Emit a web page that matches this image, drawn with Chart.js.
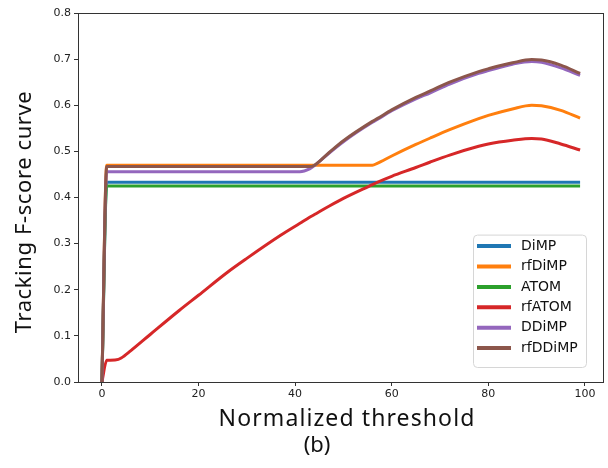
<!DOCTYPE html>
<html>
<head>
<meta charset="utf-8">
<script src="https://cdn.jsdelivr.net/npm/chart.js@4.4.1/dist/chart.umd.min.js"></script>
<style>
  html, body { margin: 0; padding: 0; background: #fff; }
</style>
</head>
<body>
<canvas id="fscoreChart" width="608" height="468"></canvas>
<script>
// normalized threshold (x) and F-score values
const thresholds = [0, 1, 3, 4, 6, 10, 16, 20, 26, 30, 37, 41, 43, 44, 47, 50, 56, 57, 60, 65, 68, 72, 78, 80, 85, 89, 91, 95, 99];

const dimp = [0, 0.433, 0.433, 0.433, 0.433, 0.433, 0.433, 0.433, 0.433, 0.433, 0.433, 0.433, 0.433, 0.433, 0.433,
  0.433, 0.433, 0.433, 0.433, 0.433, 0.433, 0.433, 0.433, 0.433, 0.433, 0.433, 0.433, 0.433, 0.433];
const rfdimp = [0, 0.470, 0.470, 0.470, 0.470, 0.470, 0.470, 0.470, 0.470, 0.470, 0.470, 0.470, 0.470, 0.470, 0.470,
  0.470, 0.470, 0.474, 0.490, 0.515, 0.529, 0.547, 0.571, 0.578, 0.592, 0.600, 0.599, 0.589, 0.572];
const atom = [0, 0.425, 0.425, 0.425, 0.425, 0.425, 0.425, 0.425, 0.425, 0.425, 0.425, 0.425, 0.425, 0.425, 0.425,
  0.425, 0.425, 0.425, 0.425, 0.425, 0.425, 0.425, 0.425, 0.425, 0.425, 0.425, 0.425, 0.425, 0.425];
const rfatom = [0, 0.047, 0.048, 0.052, 0.068, 0.103, 0.155, 0.188, 0.238, 0.268, 0.318, 0.344, 0.357, 0.363, 0.381,
  0.398, 0.428, 0.433, 0.446, 0.465, 0.477, 0.492, 0.511, 0.516, 0.524, 0.528, 0.527, 0.516, 0.503];
const ddimp = [0, 0.456, 0.456, 0.456, 0.456, 0.456, 0.456, 0.456, 0.456, 0.456, 0.456, 0.456, 0.462, 0.469, 0.496,
  0.521, 0.563, 0.569, 0.588, 0.614, 0.627, 0.646, 0.669, 0.675, 0.689, 0.695, 0.693, 0.681, 0.665];
const rfddimp = [0, 0.467, 0.467, 0.467, 0.467, 0.467, 0.467, 0.467, 0.467, 0.467, 0.467, 0.467, 0.467, 0.470, 0.497,
  0.523, 0.565, 0.571, 0.590, 0.617, 0.631, 0.650, 0.673, 0.679, 0.692, 0.699, 0.698, 0.687, 0.669];

const seriesNames = ['DiMP', 'rfDiMP', 'ATOM', 'rfATOM', 'DDiMP', 'rfDDiMP'];
const seriesValues = [dimp, rfdimp, atom, rfatom, ddimp, rfddimp];
const seriesColors = ['#1f77b4', '#ff7f0e', '#2ca02c', '#d62728', '#9467bd', '#8c564b'];

const xTicks = [0, 20, 40, 60, 80, 100];
const yTicks = [0, 0.1, 0.2, 0.3, 0.4, 0.5, 0.6, 0.7, 0.8];

const titleFont = '"Noto Sans", "Open Sans", sans-serif';
const tickFont = { family: '"DejaVu Sans", sans-serif', size: 11 };

// matplotlib style frame on all four sides
const framePlugin = {
    id: 'frame',
    afterDatasetsDraw(chart) {
        const a = chart.chartArea;
        const ctx = chart.ctx;
        ctx.save();
        ctx.strokeStyle = '#333';
        ctx.lineWidth = 1;
        ctx.strokeRect(Math.round(a.left) + 0.5, Math.round(a.top) + 0.5,
            Math.round(a.right - a.left) - 1, Math.round(a.bottom - a.top));
        ctx.restore();
    }
};

function drawText(ctx, text, x, y, angle, size, spacing) {
    ctx.save();
    ctx.translate(x, y);
    ctx.rotate(angle);
    ctx.font = size + 'px ' + titleFont;
    ctx.letterSpacing = spacing + 'px';
    ctx.textAlign = 'center';
    ctx.textBaseline = 'middle';
    ctx.fillStyle = '#111';
    ctx.fillText(text, 0, 0);
    ctx.restore();
}

// legend box in the lower right, axis titles and caption
const extrasPlugin = {
    id: 'extras',
    afterDraw(chart) {
        const ctx = chart.ctx;
        const a = chart.chartArea;
        const sets = chart.data.datasets;

        const boxW = 113, rowH = 20.4;
        const boxH = 10 + rowH * sets.length;
        const boxX = a.right - 18 - boxW;
        const boxY = a.bottom - 15 - boxH;

        ctx.save();
        ctx.beginPath();
        ctx.roundRect(boxX + 0.5, boxY + 0.5, boxW, boxH, 4);
        ctx.fillStyle = 'rgba(255,255,255,0.8)';
        ctx.fill();
        ctx.strokeStyle = '#d6d6d6';
        ctx.lineWidth = 1;
        ctx.stroke();

        ctx.font = '14px "DejaVu Sans", sans-serif';
        ctx.textBaseline = 'middle';
        ctx.textAlign = 'left';
        sets.forEach(function (ds, i) {
            const y = boxY + 11.5 + i * rowH;
            ctx.beginPath();
            ctx.moveTo(boxX + 4, y);
            ctx.lineTo(boxX + 38, y);
            ctx.strokeStyle = ds.borderColor;
            ctx.lineWidth = 4;
            ctx.stroke();
            ctx.fillStyle = '#111';
            ctx.fillText(ds.label, boxX + 48, y);
        });
        ctx.restore();

        drawText(ctx, 'Tracking F-score curve', 25, 212, -Math.PI / 2, 22, 0.6);
        drawText(ctx, 'Normalized threshold', 347, 419, 0, 23, 1.1);
        drawText(ctx, '(b)', 317, 446, 0, 22, 0);
    }
};

const ctx = document.getElementById('fscoreChart').getContext('2d');
const fscoreChart = new Chart(ctx, {
    type: 'line',
    data: {
        labels: thresholds,
        datasets: seriesNames.map(function (name, i) {
            return {
                label: name,
                data: thresholds.map(function (t, j) { return { x: t, y: seriesValues[i][j] }; }),
                borderColor: seriesColors[i],
                backgroundColor: seriesColors[i],
                borderWidth: 3,
                pointRadius: 0,
                cubicInterpolationMode: 'monotone',
                fill: false,
                order: seriesNames.length - i
            };
        })
    },
    options: {
        responsive: false,
        animation: false,
        layout: { padding: { left: 0, right: 4, top: 13, bottom: 0 } },
        plugins: {
            legend: { display: false },
            tooltip: { enabled: false }
        },
        scales: {
            x: {
                type: 'linear',
                min: -4.95,
                max: 103.95,
                afterBuildTicks: function (scale) {
                    scale.ticks = xTicks.map(function (v) { return { value: v }; });
                },
                afterFit: function (scale) { scale.height = 86; },
                border: { display: false },
                grid: { drawOnChartArea: false, drawTicks: true, tickLength: 4, color: '#333' },
                ticks: { font: tickFont, color: '#222', padding: 2, maxRotation: 0 }
            },
            y: {
                min: 0,
                max: 0.8,
                afterBuildTicks: function (scale) {
                    scale.ticks = yTicks.map(function (v) { return { value: v }; });
                },
                afterFit: function (scale) { scale.width = 78; },
                border: { display: false },
                grid: { drawOnChartArea: false, drawTicks: true, tickLength: 4, color: '#333' },
                ticks: {
                    font: tickFont,
                    color: '#222',
                    padding: 3,
                    callback: function (v) { return v.toFixed(1); }
                }
            }
        }
    },
    plugins: [framePlugin, extrasPlugin]
});
</script>
</body>
</html>
